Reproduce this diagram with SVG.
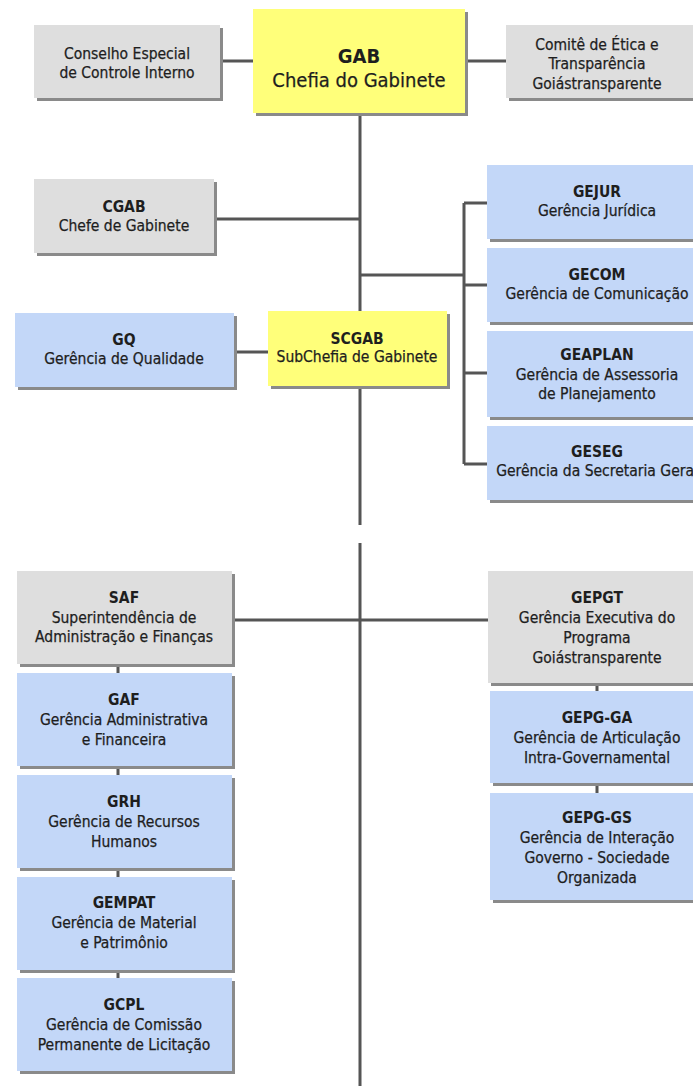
<svg xmlns="http://www.w3.org/2000/svg" width="693" height="1086" viewBox="0 0 693 1086">
<style>
.sh{fill:#8a8a8a}
.g{fill:#dedede}
.b{fill:#c3d7f8}
.y{fill:#ffff7a}
text{font-family:"DejaVu Sans Condensed","DejaVu Sans",sans-serif;font-stretch:condensed;font-size:15.5px;fill:#1e1e1e;stroke:#1e1e1e;stroke-width:0.25;text-anchor:middle}
.t{font-weight:bold;stroke-width:0}
.big{font-size:20px}
.ln{stroke:#555;stroke-width:3;fill:none}
</style>
<rect width="693" height="1086" fill="#fff"/>
<g id="connectors">
<path class="ln" d="M220 61H253M465 61H506"/>
<path class="ln" d="M360 113V311M360 386V525M360 543V1086"/>
<path class="ln" d="M214 219H360M360 275H464M464 203V464M464 203H487M464 285H487M464 373H487M464 464H487"/>
<path class="ln" d="M234 352H268"/>
<path class="ln" d="M232 620H488"/>
<path class="ln" d="M118 664V673M118 766V775M118 868V877M118 970V978"/>
<path class="ln" d="M597 683V691M597 783V793"/>
</g>
<g id="conselho"><rect class="sh" x="37" y="28" width="186" height="73"/><rect class="g" x="34" y="25" width="186" height="73"/><text x="127" y="59">Conselho Especial</text><text x="127" y="78">de Controle Interno</text></g>
<g id="gab"><rect class="sh" x="256" y="12" width="212" height="104"/><rect class="y" x="253" y="9" width="212" height="104"/><text class="t big" x="359" y="63">GAB</text><text class="big" x="359" y="87">Chefia do Gabinete</text></g>
<g id="comite"><rect class="sh" x="509" y="28" width="190" height="73"/><rect class="g" x="506" y="25" width="190" height="73"/><text x="597" y="50">Comitê de Ética e</text><text x="597" y="69">Transparência</text><text x="597" y="89">Goiástransparente</text></g>
<g id="cgab"><rect class="sh" x="37" y="182" width="180" height="74"/><rect class="g" x="34" y="179" width="180" height="74"/><text class="t" x="124" y="212">CGAB</text><text x="124" y="231">Chefe de Gabinete</text></g>
<g id="gejur"><rect class="sh" x="490" y="168" width="210" height="74"/><rect class="b" x="487" y="165" width="210" height="74"/><text class="t" x="597" y="197">GEJUR</text><text x="597" y="216">Gerência Jurídica</text></g>
<g id="gecom"><rect class="sh" x="490" y="251" width="210" height="74"/><rect class="b" x="487" y="248" width="210" height="74"/><text class="t" x="597" y="280">GECOM</text><text x="597" y="299">Gerência de Comunicação</text></g>
<g id="geaplan"><rect class="sh" x="490" y="334" width="210" height="86"/><rect class="b" x="487" y="331" width="210" height="86"/><text class="t" x="597" y="360">GEAPLAN</text><text x="597" y="380">Gerência de Assessoria</text><text x="597" y="399">de Planejamento</text></g>
<g id="geseg"><rect class="sh" x="490" y="429" width="210" height="74"/><rect class="b" x="487" y="426" width="210" height="74"/><text class="t" x="597" y="457">GESEG</text><text x="597" y="476">Gerência da Secretaria Geral</text></g>
<g id="scgab"><rect class="sh" x="271" y="314" width="179" height="75"/><rect class="y" x="268" y="311" width="179" height="75"/><text class="t" x="357" y="344">SCGAB</text><text x="357" y="362">SubChefia de Gabinete</text></g>
<g id="gq"><rect class="sh" x="18" y="316" width="219" height="74"/><rect class="b" x="15" y="313" width="219" height="74"/><text class="t" x="124" y="345">GQ</text><text x="124" y="364">Gerência de Qualidade</text></g>
<g id="saf"><rect class="sh" x="20" y="574" width="215" height="93"/><rect class="g" x="17" y="571" width="215" height="93"/><text class="t" x="124" y="603">SAF</text><text x="124" y="623">Superintendência de</text><text x="124" y="642">Administração e Finanças</text></g>
<g id="gaf"><rect class="sh" x="20" y="676" width="215" height="93"/><rect class="b" x="17" y="673" width="215" height="93"/><text class="t" x="124" y="705">GAF</text><text x="124" y="725">Gerência Administrativa</text><text x="124" y="745">e Financeira</text></g>
<g id="grh"><rect class="sh" x="20" y="778" width="215" height="93"/><rect class="b" x="17" y="775" width="215" height="93"/><text class="t" x="124" y="807">GRH</text><text x="124" y="827">Gerência de Recursos</text><text x="124" y="847">Humanos</text></g>
<g id="gempat"><rect class="sh" x="20" y="880" width="215" height="93"/><rect class="b" x="17" y="877" width="215" height="93"/><text class="t" x="124" y="908">GEMPAT</text><text x="124" y="928">Gerência de Material</text><text x="124" y="948">e Patrimônio</text></g>
<g id="gcpl"><rect class="sh" x="20" y="981" width="215" height="93"/><rect class="b" x="17" y="978" width="215" height="93"/><text class="t" x="124" y="1010">GCPL</text><text x="124" y="1030">Gerência de Comissão</text><text x="124" y="1050">Permanente de Licitação</text></g>
<g id="gepgt"><rect class="sh" x="491" y="574" width="210" height="112"/><rect class="g" x="488" y="571" width="210" height="112"/><text class="t" x="597" y="603">GEPGT</text><text x="597" y="623">Gerência Executiva do</text><text x="597" y="643">Programa</text><text x="597" y="663">Goiástransparente</text></g>
<g id="gepg-ga"><rect class="sh" x="493" y="694" width="210" height="92"/><rect class="b" x="490" y="691" width="210" height="92"/><text class="t" x="597" y="723">GEPG-GA</text><text x="597" y="743">Gerência de Articulação</text><text x="597" y="763">Intra-Governamental</text></g>
<g id="gepg-gs"><rect class="sh" x="493" y="796" width="210" height="107"/><rect class="b" x="490" y="793" width="210" height="107"/><text class="t" x="597" y="823">GEPG-GS</text><text x="597" y="843">Gerência de Interação</text><text x="597" y="863">Governo - Sociedade</text><text x="597" y="883">Organizada</text></g>
</svg>
